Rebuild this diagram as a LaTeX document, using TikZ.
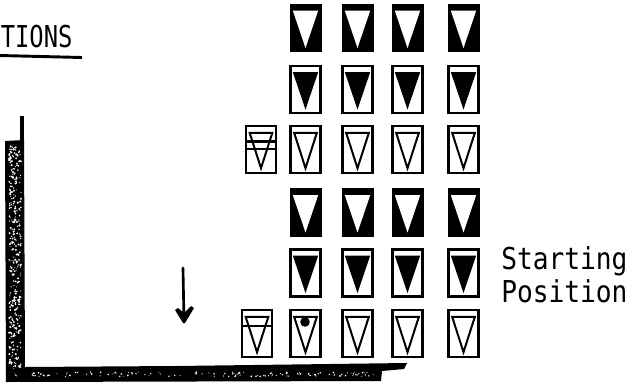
\documentclass[tikz,border=0pt]{standalone}
\usepackage{fontspec}
\setmainfont{DejaVu Sans Mono}
\usetikzlibrary{arrows.meta}
\tikzset{
 x=0.75pt,y=-0.75pt,
 solidbox/.style={draw=black,fill=black,line width=1pt,minimum width=23pt,minimum height=35.5pt,inner sep=0pt,outer sep=0pt},
 framebox/.style={draw=black,fill=white,line width=1.8pt,minimum width=22.5pt,minimum height=35.5pt,inner sep=0pt,outer sep=0pt},
 tri/.style={line width=1.5pt,draw=black,line join=miter},
 lbl/.style={inner sep=0pt,font=\fontsize{22.6}{26}\selectfont,anchor=base west},
}
\newcommand{\narrow}[1]{\scalebox{0.87}[1]{#1}}
\newcommand{\triWhite}[3]{\node[solidbox] (#1) at (#2,#3) {};
 \fill[white] ([xshift=-9.5pt,yshift=13pt]#1.center) -- ([xshift=9.5pt,yshift=13pt]#1.center) -- ([yshift=-15pt]#1.center) -- cycle;}
\newcommand{\triBlack}[3]{\node[framebox] (#1) at (#2,#3) {};
 \fill[black] ([xshift=-9.5pt,yshift=13pt]#1.center) -- ([xshift=9.5pt,yshift=13pt]#1.center) -- ([yshift=-15pt]#1.center) -- cycle;}
\newcommand{\triOpen}[3]{\node[framebox] (#1) at (#2,#3) {};
 \draw[tri] ([xshift=-8.5pt,yshift=12.5pt]#1.center) -- ([xshift=8.5pt,yshift=12.5pt]#1.center) -- ([yshift=-14pt]#1.center) -- cycle;}
\begin{document}
\begin{tikzpicture}
\useasboundingbox (0,0) rectangle (632,383);
\fill[white] (0,0) rectangle (632,383);
% title
\node[lbl] (title) at (0.5,47) {\scalebox{0.79}[1]{TIONS}};
\begin{scope}
\clip (0,0) rectangle (632,383);
\coordinate (ruleA) at (0,55.5);
\coordinate (ruleB) at (82,57.5);
\draw[line width=2.2pt] (ruleA) -- (ruleB);
% wall
\coordinate (wallTop) at (22,116);
\coordinate (wallJoin) at (22,142);
\draw[line width=3pt] (wallTop) -- (wallJoin);
\fill[black] (5,141) -- (24,140) -- (25,367) -- (176,366) -- (407,363) -- (404,369) -- (382,371) -- (381,381) -- (6,382) -- cycle;
\pgfmathsetseed{42}
\foreach \i in {1,...,340}{
 \pgfmathsetmacro{\px}{9+rnd*12}
 \pgfmathsetmacro{\py}{146+rnd*224}
 \pgfmathsetmacro{\pr}{0.35+rnd*0.55}
 \fill[white] (\px,\py) circle[radius=\pr pt];
}
\foreach \i in {1,...,130}{
 \pgfmathsetmacro{\px}{14+rnd*360}
 \pgfmathsetmacro{\py}{372+rnd*4.5}
 \pgfmathsetmacro{\pr}{0.3+rnd*0.4}
 \fill[white] (\px,\py) circle[radius=\pr pt];
}
\end{scope}
% arrow
\coordinate (arrTop) at (183,268);
\coordinate (arrTip) at (184,322);
\draw[line width=2pt,line cap=round] (arrTop) -- (arrTip);
\fill[black] (175,310) -- (178,308) -- (184,313) -- (191,306) -- (194,308) -- (185,323) -- (183,323) -- cycle;
% rows
\foreach \n/\cx in {a/305.5,b/357.5,c/407.5,d/463.5}{
 \triWhite{r1\n}{\cx}{28}
 \triBlack{r2\n}{\cx}{89.5}
 \triOpen{r3\n}{\cx}{149.5}
 \triWhite{r4\n}{\cx}{212.5}
 \triBlack{r5\n}{\cx}{273}
 \triOpen{r6\n}{\cx}{333.5}
}
\fill[black] (305,322) circle[radius=3.6pt];
% left boxes
\triOpen{lu}{261}{149.5}
\triOpen{ll}{257}{333.5}
\draw[line width=2.2pt] (lu.west |- 0,141.5) -- (lu.east |- 0,141.5);
\draw[line width=1.6pt] (lu.west |- 0,149) -- (lu.east |- 0,149);
\draw[line width=1.9pt] (ll.west |- 0,326) -- (ll.east |- 0,326);
% caption
\node[lbl] (start) at (501,269) {\narrow{Starting}};
\node[lbl] (pos) at (501,302) {\narrow{Position}};
\end{tikzpicture}
\end{document}
